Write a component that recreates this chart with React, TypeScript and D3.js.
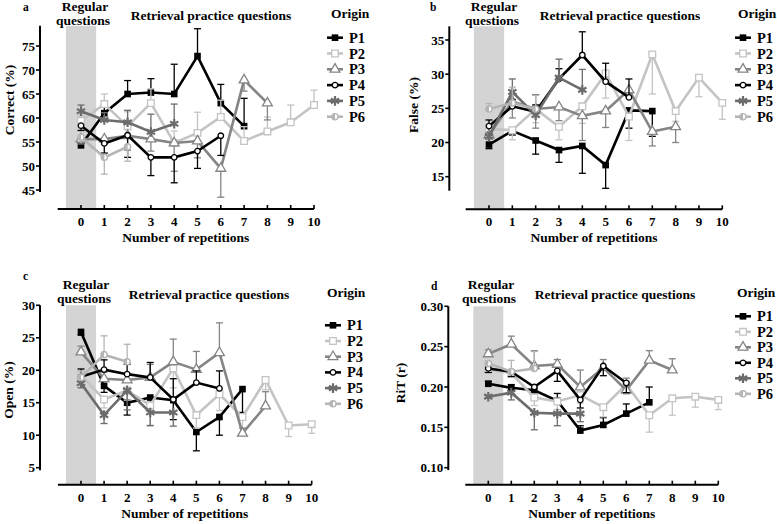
import React, { useEffect, useRef } from 'react';
import * as d3 from 'd3';

// Origins (series) and repetitions (x categories)
const origins = ['P1', 'P2', 'P3', 'P4', 'P5', 'P6'];
const repetitions = [0, 1, 2, 3, 4, 5, 6, 7, 8, 9, 10];

// a: Correct (%)
const correctMean = [
  [54.3, 61.0, 65.0, 65.3, 65.0, 72.9, 63.1, 58.3],
  [59.4, 62.9, 58.3, 63.1, 54.8, 56.9, 60.2, 55.2, 57.2, 59.1, 62.7],
  [55.6, 55.6, 56.3, 55.6, 54.8, 55.2, 49.5, 67.9, 63.1],
  [58.4, 54.7, 56.4, 51.8, 51.8, 53.1, 56.3],
  [61.4, 59.6, 59.1, 57.1, 58.8],
  [56.0, 51.8, 54.0],
];
const correctErr = [
  [0.5, 1.5, 2.8, 2.9, 6.2, 5.7, 3.9, 5.8],
  [1.0, 2.1, 3.0, 3.0, 2.5, 4.3, 3.5, 3.0, 3.0, 3.6, 3.1],
  [1.0, 1.0, 3.0, 2.5, 5.9, 3.5, 6.0, 2.3, 3.5],
  [1.0, 2.0, 4.6, 3.8, 5.3, 3.6, 4.1],
  [1.3, 1.5, 2.5, 3.7, 4.1],
  [1.0, 3.5, 3.0],
];
const correctSide = [1, 1, -1, -1, 1, -1];
const correctTicks = [45, 50, 55, 60, 65, 70, 75];

// b: False (%)
const falseMean = [
  [19.7, 21.7, 20.3, 18.9, 19.5, 16.7, 24.7, 24.6],
  [22.0, 21.8, 24.9, 22.3, 25.3, 30.1, 23.8, 32.9, 24.6, 29.5, 25.8],
  [21.1, 26.0, 24.9, 25.2, 23.9, 24.6, 27.7, 21.6, 22.3],
  [22.4, 25.3, 24.5, 29.3, 32.8, 28.9, 26.6],
  [20.9, 27.4, 24.0, 29.5, 27.7],
  [24.9, 25.8, 24.9],
];
const falseErr = [
  [0.6, 0.6, 2.0, 1.8, 4.0, 3.4, 2.6, 3.7],
  [0.6, 1.4, 2.0, 1.9, 2.5, 3.6, 3.5, 5.8, 1.5, 2.8, 2.4],
  [0.6, 2.4, 2.8, 2.0, 3.6, 2.4, 1.0, 2.1, 2.3],
  [0.9, 1.0, 1.0, 1.5, 3.4, 2.7, 2.7],
  [0.5, 1.9, 3.0, 2.7, 3.0],
  [0.8, 2.3, 2.0],
];
const falseSide = [-1, -1, -1, 1, 1, 1];
const falseTicks = [15, 20, 25, 30, 35];

// c: Open (%)
const openMean = [
  [25.9, 17.6, 15.0, 15.8, 15.4, 10.5, 12.8, 17.1],
  [19.2, 15.5, 16.9, 14.6, 20.3, 13.1, 16.3, 12.8, 18.5, 11.5, 11.7],
  [22.8, 18.7, 18.5, 18.9, 21.3, 20.1, 22.7, 10.3, 14.5],
  [19.0, 20.1, 19.4, 18.9, 15.5, 18.1, 17.2],
  [18.0, 13.1, 16.9, 13.5, 13.5],
  [18.9, 22.4, 21.3],
];
const openErr = [
  [0.5, 1.0, 1.9, 1.0, 3.0, 2.9, 2.8, 3.6],
  [1.0, 1.3, 1.5, 3.2, 3.0, 2.0, 2.5, 2.5, 1.5, 1.7, 1.4],
  [0.9, 1.0, 1.0, 2.0, 3.5, 2.8, 4.6, 0.8, 2.2],
  [1.2, 1.5, 1.5, 2.3, 3.2, 1.8, 2.7],
  [0.7, 1.3, 3.0, 2.0, 2.1],
  [1.0, 2.9, 2.7],
];
const openSide = [-1, -1, 1, 1, -1, 1];
const openTicks = [5, 10, 15, 20, 25, 30];

// d: RiT (r)
const ritMean = [
  [0.204, 0.199, 0.196, 0.183, 0.146, 0.153, 0.167, 0.181],
  [0.222, 0.217, 0.187, 0.182, 0.190, 0.175, 0.203, 0.165, 0.186, 0.188, 0.184],
  [0.241, 0.253, 0.226, 0.228, 0.200, 0.224, 0.196, 0.233, 0.221],
  [0.223, 0.219, 0.200, 0.220, 0.184, 0.226, 0.205],
  [0.188, 0.193, 0.168, 0.167, 0.167],
  [0.229, 0.219, 0.223],
];
const ritErr = [
  [0.003, 0.004, 0.006, 0.009, 0.006, 0.009, 0.012, 0.019],
  [0.004, 0.005, 0.010, 0.010, 0.010, 0.012, 0.012, 0.021, 0.021, 0.013, 0.012],
  [0.005, 0.010, 0.019, 0.006, 0.021, 0.010, 0.015, 0.012, 0.014],
  [0.005, 0.006, 0.006, 0.013, 0.010, 0.012, 0.012],
  [0.002, 0.009, 0.021, 0.015, 0.010],
  [0.003, 0.014, 0.021],
];
const ritSide = [1, -1, 1, -1, -1, 1];
const ritTicks = [0.1, 0.15, 0.2, 0.25, 0.3];

const FONT = '"Liberation Serif", "Times New Roman", serif';

const styles = [
  { color: '#000000', shape: 'square', fill: '#000000' },
  { color: '#c4c4c4', shape: 'square', fill: '#ffffff' },
  { color: '#858585', shape: 'triangle', fill: '#ffffff' },
  { color: '#000000', shape: 'circle', fill: '#ffffff' },
  { color: '#6c6c6c', shape: 'asterisk', fill: 'none' },
  { color: '#b5b5b5', shape: 'half', fill: '#ffffff' },
];

interface Panel {
  letter: string;
  yTitle: string;
  mean: number[][];
  err: number[][];
  side: number[];
  ticks: number[];
  fmt: (n: number) => string;
  yExt: [number, number];
  yPx: [number, number];
  axisX: number;
  xPx: [number, number];
  xAxisY: number;
  letterPos: [number, number];
  regularX: number;
  regularY: number;
  retrievalX: number;
  retrievalY: number;
  originX: number;
  originY: number;
  legendX: number;
  legendY: number;
  legendStep: number;
  yTitlePos: [number, number];
}

const panels: Panel[] = [
  {
    letter: 'a', yTitle: 'Correct (%)', mean: correctMean, err: correctErr, side: correctSide,
    ticks: correctTicks, fmt: d3.format('d'), yExt: [44.6, 79.2], yPx: [190, 46],
    axisX: 40, xPx: [81, 314], xAxisY: 209, letterPos: [23, 11],
    regularX: 85, regularY: 11, retrievalX: 211, retrievalY: 20, originX: 331, originY: 18,
    legendX: 327, legendY: 37.7, legendStep: 15.8, yTitlePos: [9, 100],
  },
  {
    letter: 'b', yTitle: 'False (%)', mean: falseMean, err: falseErr, side: falseSide,
    ticks: falseTicks, fmt: d3.format('d'), yExt: [12.95, 37], yPx: [176.7, 40],
    axisX: 449.3, xPx: [489, 722.3], xAxisY: 209.3, letterPos: [430, 11],
    regularX: 494, regularY: 11, retrievalX: 620, retrievalY: 20, originX: 738, originY: 18,
    legendX: 735, legendY: 37.7, legendStep: 15.8, yTitlePos: [413, 105],
  },
  {
    letter: 'c', yTitle: 'Open (%)', mean: openMean, err: openErr, side: openSide,
    ticks: openTicks, fmt: d3.format('d'), yExt: [4.6, 30], yPx: [467.7, 305.3],
    axisX: 40, xPx: [81, 311.7], xAxisY: 484.7, letterPos: [23, 280],
    regularX: 86, regularY: 289, retrievalX: 209, retrievalY: 299, originX: 327, originY: 297,
    legendX: 325, legendY: 325.3, legendStep: 15.7, yTitlePos: [8, 390],
  },
  {
    letter: 'd', yTitle: 'RiT (r)', mean: ritMean, err: ritErr, side: ritSide,
    ticks: ritTicks, fmt: d3.format('.2f'), yExt: [0.097, 0.3], yPx: [467.7, 306.3],
    axisX: 448.3, xPx: [488.3, 718.3], xAxisY: 484.7, letterPos: [431, 290],
    regularX: 491, regularY: 289, retrievalX: 615, retrievalY: 299, originX: 737, originY: 297,
    legendX: 735, legendY: 316.3, legendStep: 15.5, yTitlePos: [400, 383],
  },
];

function drawMarker(g: d3.Selection<SVGGElement, unknown, null, undefined>, idx: number, cx: number, cy: number) {
  const s = styles[idx];
  if (s.shape === 'half') {
    g.append('circle').attr('cx', cx).attr('cy', cy).attr('r', 3.1)
      .attr('fill', '#fff').attr('stroke', s.color).attr('stroke-width', 1.4);
    g.append('path')
      .attr('d', `M${cx},${cy - 3.1} A3.1,3.1 0 0 0 ${cx},${cy + 3.1} Z`)
      .attr('fill', s.color);
    return;
  }
  const type = s.shape === 'square' ? d3.symbolSquare
    : s.shape === 'triangle' ? d3.symbolTriangle
      : s.shape === 'circle' ? d3.symbolCircle : d3.symbolAsterisk;
  const size = s.shape === 'square' ? 44 : s.shape === 'triangle' ? 42 : s.shape === 'circle' ? 24 : 64;
  const path = d3.symbol().type(type).size(size)();
  g.append('path')
    .attr('d', path || '')
    .attr('transform', `translate(${cx},${cy})`)
    .attr('fill', s.fill)
    .attr('stroke', s.color)
    .attr('stroke-width', s.shape === 'asterisk' ? 2.2 : s.shape === 'square' && idx === 0 ? 0 : 1.3);
}

export default function App() {
  const svgRef = useRef<SVGSVGElement>(null);

  useEffect(() => {
    if (!svgRef.current) return;
    const svg = d3.select(svgRef.current);
    svg.selectAll('*').remove();

    svg.append('rect').attr('width', 777).attr('height', 524).attr('fill', '#fff');

    panels.forEach(p => {
      const g = svg.append('g');
      const x = d3.scaleLinear().domain([0, 10]).range(p.xPx);
      const y = d3.scaleLinear()
        .domain([p.ticks[0], p.ticks[p.ticks.length - 1]])
        .range(p.yPx);

      // Shaded "regular questions" band
      g.append('rect')
        .attr('x', x(-0.65))
        .attr('y', y(p.yExt[1]))
        .attr('width', x(0.65) - x(-0.65))
        .attr('height', p.xAxisY - y(p.yExt[1]))
        .attr('fill', '#d4d4d4');

      // Y axis
      g.append('line')
        .attr('x1', p.axisX).attr('x2', p.axisX)
        .attr('y1', y(p.yExt[0])).attr('y2', y(p.yExt[1]))
        .attr('stroke', '#000').attr('stroke-width', 2);
      p.ticks.forEach(t => {
        g.append('line')
          .attr('x1', p.axisX - 4).attr('x2', p.axisX)
          .attr('y1', y(t)).attr('y2', y(t))
          .attr('stroke', '#000').attr('stroke-width', 1.6);
        g.append('text')
          .attr('x', p.axisX - 5).attr('y', y(t)).attr('dy', '0.35em')
          .attr('text-anchor', 'end')
          .style('font-family', FONT).style('font-weight', 'bold').style('font-size', '13px')
          .text(p.fmt(t));
      });

      // X axis
      g.append('line')
        .attr('x1', x(-1)).attr('x2', x(10))
        .attr('y1', p.xAxisY).attr('y2', p.xAxisY)
        .attr('stroke', '#000').attr('stroke-width', 2);
      repetitions.forEach(r => {
        g.append('line')
          .attr('x1', x(r)).attr('x2', x(r))
          .attr('y1', p.xAxisY).attr('y2', p.xAxisY - 4)
          .attr('stroke', '#000').attr('stroke-width', 1.6);
        g.append('text')
          .attr('x', x(r)).attr('y', p.xAxisY + 17)
          .attr('text-anchor', 'middle')
          .style('font-family', FONT).style('font-weight', 'bold').style('font-size', '13px')
          .text(String(r));
      });
      g.append('text')
        .attr('x', (x(-1) + x(10)) / 2).attr('y', p.xAxisY + 33)
        .attr('text-anchor', 'middle')
        .style('font-family', FONT).style('font-weight', 'bold').style('font-size', '13.5px')
        .text('Number of repetitions');

      // Y title
      g.append('text')
        .attr('transform', `translate(${p.yTitlePos[0]},${p.yTitlePos[1]}) rotate(-90)`)
        .attr('dy', '0.35em')
        .attr('text-anchor', 'middle')
        .style('font-family', FONT).style('font-weight', 'bold').style('font-size', '13.5px')
        .text(p.yTitle);

      // Headers
      const txt = (tx: number, ty: number, s: string, size: number, anchor = 'middle') =>
        g.append('text').attr('x', tx).attr('y', ty).attr('text-anchor', anchor)
          .style('font-family', FONT).style('font-weight', 'bold').style('font-size', `${size}px`)
          .text(s);
      txt(p.letterPos[0], p.letterPos[1], p.letter, 11.5, 'start');
      txt(p.regularX, p.regularY, 'Regular', 13.5);
      txt(p.regularX - 2, p.regularY + 14, 'questions', 13.5);
      txt(p.retrievalX, p.retrievalY, 'Retrieval practice questions', 13.5);
      txt(p.originX, p.originY, 'Origin', 13.5, 'start');

      // Series
      const line = d3.line<number>().x((_, i) => x(repetitions[i])).y(d => y(d));
      p.mean.forEach((vals, si) => {
        const st = styles[si];
        const sg = g.append('g');
        vals.forEach((v, i) => {
          const y1 = y(v);
          const y2 = y(v + p.side[si] * p.err[si][i]);
          sg.append('line').attr('x1', x(i)).attr('x2', x(i)).attr('y1', y1).attr('y2', y2)
            .attr('stroke', st.color).attr('stroke-width', 1.3);
          sg.append('line').attr('x1', x(i) - 3.5).attr('x2', x(i) + 3.5).attr('y1', y2).attr('y2', y2)
            .attr('stroke', st.color).attr('stroke-width', 1.3);
        });
        sg.append('path')
          .attr('d', line(vals) || '')
          .attr('fill', 'none')
          .attr('stroke', st.color)
          .attr('stroke-width', 2.6);
        vals.forEach((v, i) => drawMarker(sg, si, x(i), y(v)));
      });

      // Legend
      origins.forEach((o, i) => {
        const ly = p.legendY + i * p.legendStep;
        const st = styles[i];
        g.append('line').attr('x1', p.legendX).attr('x2', p.legendX + 16)
          .attr('y1', ly).attr('y2', ly)
          .attr('stroke', st.color).attr('stroke-width', 2.6);
        drawMarker(g, i, p.legendX + 8, ly);
        g.append('text')
          .attr('x', p.legendX + 22).attr('y', ly).attr('dy', '0.35em')
          .style('font-family', FONT).style('font-weight', 'bold').style('font-size', '14.5px')
          .text(o);
      });
    });
  }, []);

  return (
    <svg
      ref={svgRef}
      width={777}
      height={524}
      viewBox="0 0 777 524"
      style={{ position: 'absolute', left: 0, top: 0 }}
    />
  );
}
